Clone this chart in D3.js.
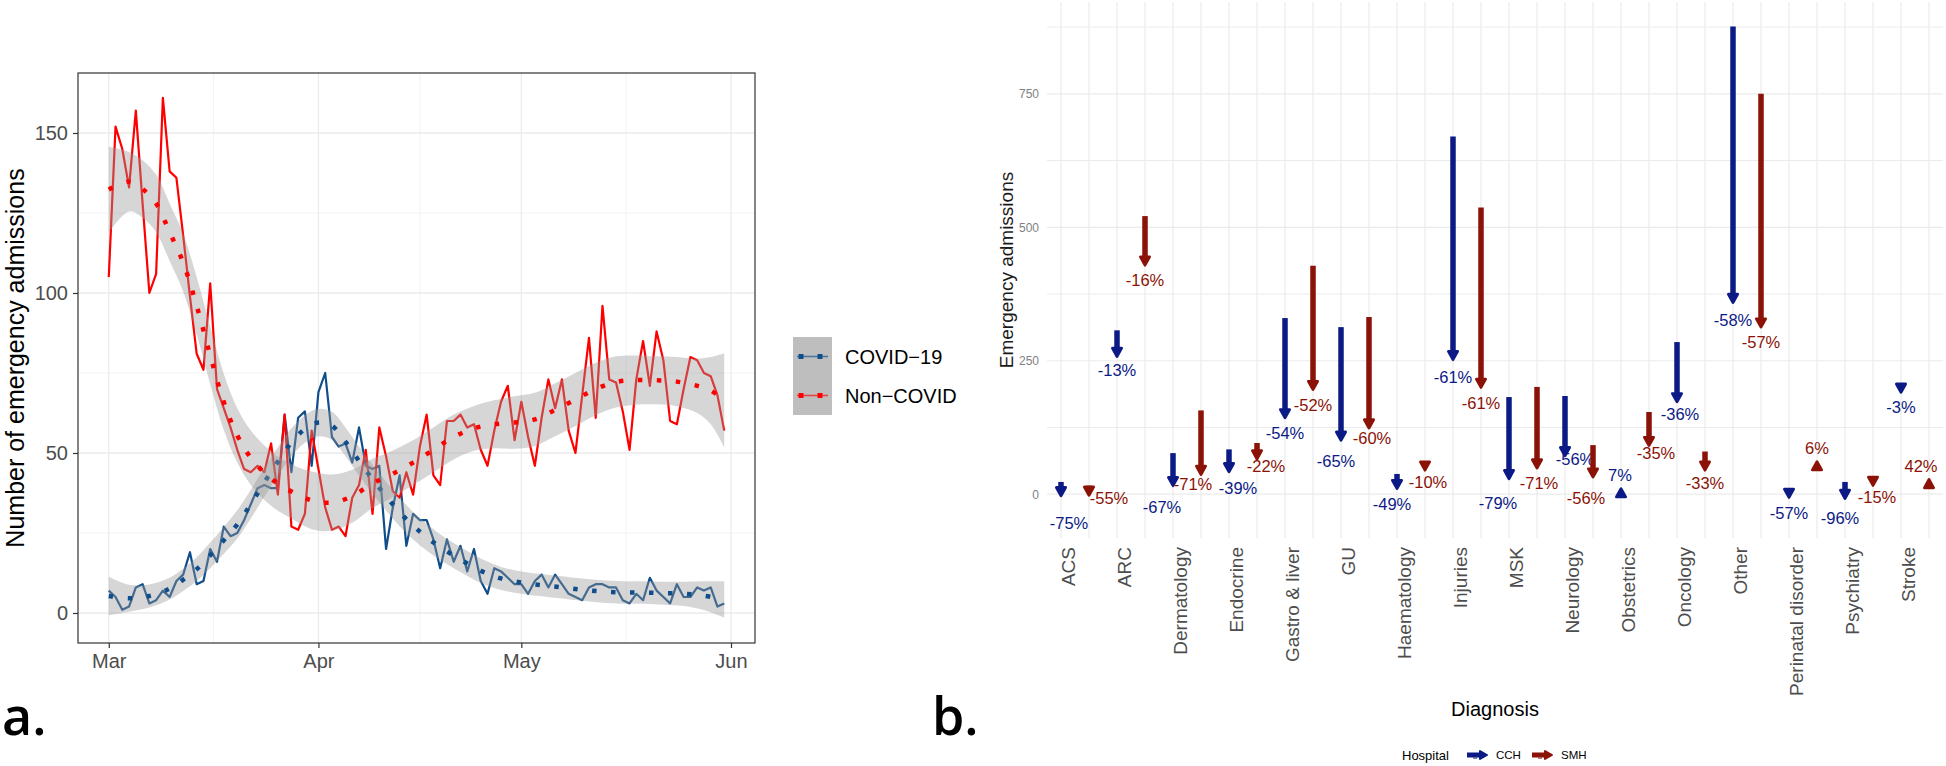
<!DOCTYPE html>
<html>
<head>
<meta charset="utf-8">
<script src="https://cdn.jsdelivr.net/npm/d3@7"></script>
<style>
  body { margin: 0; background: #fff; }
  svg { display: block; font-family: "Liberation Sans", Arial, sans-serif; }
</style>
</head>
<body>
<svg id="chart" width="1946" height="766"></svg>
<script>
// ---------- panel a: daily emergency admissions from 1 March 2020
const startDate = new Date(Date.UTC(2020, 2, 1));
const covid = [7, 5, 1, 2, 8, 9, 3, 4, 7, 5, 10, 12, 19, 9, 10, 20, 16, 27, 24, 25,
  29, 34, 39, 40, 39, 39, 62, 44, 61, 63, 46, 69, 75, 55, 52, 53, 47, 58, 46, 45,
  46, 20, 33, 43, 21, 31, 29, 29, 23, 14, 23, 16, 21, 13, 20, 10, 6, 14, 13, 11,
  9, 9, 6, 10, 12, 8, 12, 9, 6, 5, 4, 8, 9, 9, 8, 8, 4, 3, 6, 4,
  11, 7, 5, 3, 9, 5, 5, 8, 7, 8, 2, 3];
const nonCovid = [105, 152, 145, 133, 157, 128, 100, 106, 161, 138, 136, 118, 99, 81, 76, 103, 70, 64, 58, 51,
  45, 44, 46, 44, 53, 37, 62, 27, 26, 31, 57, 45, 33, 26, 27, 24, 36, 40, 51, 31,
  58, 49, 38, 36, 44, 37, 52, 62, 43, 40, 60, 60, 62, 58, 59, 51, 46, 57, 66, 71,
  54, 66, 55, 46, 61, 73, 64, 73, 57, 50, 68, 86, 61, 96, 73, 72, 63, 51, 73, 85,
  71, 88, 79, 60, 59, 70, 80, 79, 75, 74, 68, 57];

// loess fit and 95% band at knot days
const covidKnots = [0, 3, 6, 9, 11, 13, 15, 17, 19, 21, 23, 25, 27, 29, 31, 33, 35, 37, 39, 41,
  43, 45, 47, 49, 52, 55, 58, 61, 64, 67, 70, 73, 76, 79, 82, 85, 88, 91];
const covidFit = [5.3, 4.6, 5.3, 7.6, 10.4, 13.7, 18, 22.7, 27.7, 34, 40.8, 47.3, 53.3, 57.5, 59.5, 58.5, 53.5, 47.5, 41.8, 36.5,
  31.5, 27.3, 23.7, 20.6, 16.7, 13.2, 10.8, 9.5, 8.7, 8, 7.3, 6.7, 6.4, 6.4, 6.2, 6, 5.4, 4.2];
const covidLo = [-0.7, 0.4, 1.7, 4.2, 6.9, 10, 14, 18.5, 23.3, 29.5, 36.3, 42.8, 48.9, 53.2, 55.2, 54.1, 49, 43, 37.3, 32,
  27.1, 23, 19.5, 16.6, 12.8, 9.4, 7.2, 6, 5.2, 4.5, 3.8, 3.2, 2.9, 2.9, 2.6, 2.2, 0.9, -1.5];
const covidHi = [11.3, 8.8, 8.9, 11, 13.9, 17.4, 22, 26.9, 32.1, 38.5, 45.3, 51.8, 57.7, 61.8, 63.8, 62.9, 58, 52, 46.3, 41,
  35.9, 31.6, 27.9, 24.6, 20.6, 17, 14.4, 13, 12.2, 11.5, 10.8, 10.2, 9.9, 9.9, 9.8, 9.8, 9.9, 9.9];

const nonCovidKnots = [0, 3, 5, 7, 9, 11, 13, 15, 17, 19, 21, 24, 27, 30, 33, 36, 39, 42, 45, 48,
  51, 54, 57, 60, 63, 66, 69, 72, 75, 78, 81, 84, 87, 89, 91];
const nonCovidFit = [132.3, 134.8, 132.5, 128, 119, 109.5, 96, 80.5, 66, 55.5, 48.5, 42, 38, 35.2, 34.5, 36.5, 40.5, 43.5, 47, 51,
  55, 57.7, 59, 59.5, 60.5, 63.5, 66.7, 70, 72.2, 72.8, 72.7, 72.3, 71, 69.5, 66.5];
const nonCovidLo = [118.9, 125.5, 123.5, 119, 110, 100.5, 87, 71.5, 57.2, 47, 40, 33.5, 29.5, 26.2, 25.7, 28.2, 32.8, 36.2, 40, 44,
  48, 50.7, 51.5, 51.3, 52.2, 55.2, 58.4, 61.8, 64.2, 65.1, 65.2, 64.6, 62.5, 59, 51.8];
const nonCovidHi = [145.7, 144.1, 141.5, 137, 128, 118.5, 105, 89.5, 74.8, 64, 57, 50.5, 46.5, 44.2, 43.3, 44.8, 48.2, 50.8, 54, 58,
  62, 64.7, 66.5, 67.7, 68.8, 71.8, 75, 78.2, 80.2, 80.5, 80.2, 80, 79.5, 80, 81.2];

const seriesNames = ["COVID\u221219", "Non\u2212COVID"];
const yTicksA = [0, 50, 100, 150];

// ---------- panel b: admissions before -> after, by diagnosis and hospital
const diagnoses = ["ACS", "ARC", "Dermatology", "Endocrine", "Gastro & liver", "GU", "Haematology", "Injuries",
  "MSK", "Neurology", "Obstetrics", "Oncology", "Other", "Perinatal disorder", "Psychiatry", "Stroke"];
const hospitals = ["CCH", "SMH"];
const cchBefore = [23, 307, 77, 84, 330, 313, 38, 670, 182, 184, 1.4, 285, 876, 7, 23, 206];
const cchAfter = [6, 267, 25, 51, 152, 110, 19.5, 261, 38, 81, 1.5, 182, 368, 3, 1, 200];
const cchChange = ["-75%", "-13%", "-67%", "-39%", "-54%", "-65%", "-49%", "-61%", "-79%", "-56%", "7%", "-36%", "-58%", "-57%", "-96%", "-3%"];
const smhBefore = [16, 521, 157, 96, 428, 332, 60, 537, 201, 92, 154, 80, 750, 49, 30, 13];
const smhAfter = [7, 438, 46, 75, 205, 133, 54, 209, 58, 41, 100, 54, 322, 52, 25.5, 18.5];
const smhChange = ["-55%", "-16%", "-71%", "-22%", "-52%", "-60%", "-10%", "-61%", "-71%", "-56%", "-35%", "-33%", "-57%", "6%", "-15%", "42%"];
const yTicksB = [0, 250, 500, 750];

// label nudges (px), like a repel step, kept apart from the data
const cchNudge = [[8, 12], [0, -2], [-11, 6], [9, 1], [0, 0], [-5, 6], [-5, 0], [0, 2],
  [-11, 9], [10, -12], [-1, 2], [3, -3], [0, 2], [0, 0], [-5, 4], [0, 0]];
const smhNudge = [[20, -12], [0, 0], [-8, -6], [9, -8], [0, 0], [3, -5], [3, -3], [0, 0],
  [2, 0], [-7, 6], [7, -8], [0, -2], [0, 0], [0, 2], [4, -4], [-8, 2]];

const svg = d3.select("#chart");
const grid = "#EBEBEB";

// =================== panel a ===================
const A = { left: 78, right: 755, top: 73, bottom: 643 };
const dates = covid.map((_, i) => d3.utcDay.offset(startDate, i));
const endDate = dates[dates.length - 1];
const pad = 0.05 * (endDate - startDate);

const xa = d3.scaleUtc()
  .domain([new Date(+startDate - pad), new Date(+endDate + pad)])
  .range([A.left, A.right]);
const ya = d3.scaleLinear().domain([-9.375, 168.75]).range([A.bottom, A.top]);

const ga = svg.append("g");
const xMajor = d3.utcMonth.range(startDate, d3.utcDay.offset(endDate, 2));
const xMinor = d3.pairs(xMajor).map(([a, b]) => new Date((+a + +b) / 2));
const yMinor = d3.pairs(yTicksA).map(([a, b]) => (a + b) / 2);

ga.selectAll(".yminor").data(yMinor).join("line")
  .attr("x1", A.left).attr("x2", A.right)
  .attr("y1", d => ya(d)).attr("y2", d => ya(d))
  .attr("stroke", grid).attr("stroke-width", 0.6);
ga.selectAll(".xminor").data(xMinor).join("line")
  .attr("x1", d => xa(d)).attr("x2", d => xa(d))
  .attr("y1", A.top).attr("y2", A.bottom)
  .attr("stroke", grid).attr("stroke-width", 0.6);
ga.selectAll(".ymajor").data(yTicksA).join("line")
  .attr("x1", A.left).attr("x2", A.right)
  .attr("y1", d => ya(d)).attr("y2", d => ya(d))
  .attr("stroke", grid).attr("stroke-width", 1.3);
ga.selectAll(".xmajor").data(xMajor).join("line")
  .attr("x1", d => xa(d)).attr("x2", d => xa(d))
  .attr("y1", A.top).attr("y2", A.bottom)
  .attr("stroke", grid).attr("stroke-width", 1.3);

const colA = { [seriesNames[0]]: "#104E8B", [seriesNames[1]]: "#FF0000" };
const raw = [
  { name: seriesNames[0], values: covid },
  { name: seriesNames[1], values: nonCovid }
];
const smooth = [
  { name: seriesNames[0], days: covidKnots, fit: covidFit, lo: covidLo, hi: covidHi },
  { name: seriesNames[1], days: nonCovidKnots, fit: nonCovidFit, lo: nonCovidLo, hi: nonCovidHi }
];

const line = d3.line()
  .x((d, i) => xa(dates[i]))
  .y(d => ya(d));
raw.forEach(s => {
  ga.append("path")
    .attr("d", line(s.values))
    .attr("fill", "none")
    .attr("stroke", colA[s.name])
    .attr("stroke-width", 2.2)
    .attr("stroke-linejoin", "round");
});

smooth.forEach(s => {
  const pts = s.days.map((day, i) => ({ date: d3.utcDay.offset(startDate, day), fit: s.fit[i], lo: s.lo[i], hi: s.hi[i] }));
  const band = d3.area()
    .curve(d3.curveCatmullRom.alpha(0.5))
    .x(d => xa(d.date)).y0(d => ya(d.lo)).y1(d => ya(d.hi));
  ga.append("path")
    .attr("d", band(pts))
    .attr("fill", "#999999")
    .attr("fill-opacity", 0.4);
  const fitLine = d3.line()
    .curve(d3.curveCatmullRom.alpha(0.5))
    .x(d => xa(d.date)).y(d => ya(d.fit));
  ga.append("path")
    .attr("d", fitLine(pts))
    .attr("fill", "none")
    .attr("stroke", colA[s.name])
    .attr("stroke-width", 4.5)
    .attr("stroke-dasharray", "4.5 14.5");
});

// panel border
ga.append("rect")
  .attr("x", A.left).attr("y", A.top)
  .attr("width", A.right - A.left).attr("height", A.bottom - A.top)
  .attr("fill", "none").attr("stroke", "#333333").attr("stroke-width", 1.2);

// axes
const xAxisA = d3.axisBottom(xa).tickValues(xMajor).tickFormat(d3.utcFormat("%b")).tickSize(5).tickPadding(6);
const gxa = ga.append("g").attr("transform", `translate(0,${A.bottom})`).call(xAxisA);
gxa.select(".domain").remove();
gxa.selectAll("line").attr("stroke", "#333333").attr("stroke-width", 1.2);
gxa.selectAll("text").attr("fill", "#4D4D4D").attr("font-size", 20).attr("font-family", "Liberation Sans, Arial, sans-serif");

const yAxisA = d3.axisLeft(ya).tickValues(yTicksA).tickSize(5).tickPadding(5);
const gya = ga.append("g").attr("transform", `translate(${A.left},0)`).call(yAxisA);
gya.select(".domain").remove();
gya.selectAll("line").attr("stroke", "#333333").attr("stroke-width", 1.2);
gya.selectAll("text").attr("fill", "#4D4D4D").attr("font-size", 20).attr("font-family", "Liberation Sans, Arial, sans-serif");

ga.append("text")
  .attr("transform", `translate(24,${(A.top + A.bottom) / 2}) rotate(-90)`)
  .attr("text-anchor", "middle")
  .attr("font-size", 25)
  .attr("fill", "#000")
  .text("Number of emergency admissions");

// legend a
const legA = ga.append("g").attr("transform", "translate(793,337)");
seriesNames.forEach((name, i) => {
  const g = legA.append("g").attr("transform", `translate(0,${i * 39})`);
  g.append("rect").attr("width", 39).attr("height", 39).attr("fill", "#BEBEBE");
  g.append("line").attr("x1", 4).attr("x2", 35).attr("y1", 19.5).attr("y2", 19.5)
    .attr("stroke", colA[name]).attr("stroke-width", 1.6).attr("stroke-opacity", 0.65);
  [8, 27].forEach(cx => g.append("rect").attr("x", cx - 2.5).attr("y", 17).attr("width", 5).attr("height", 5).attr("fill", colA[name]));
  g.append("text").attr("x", 52).attr("y", 19.5).attr("dy", "0.36em")
    .attr("font-size", 20).attr("fill", "#000").text(name);
});

svg.append("text").attr("x", 2).attr("y", 735)
  .attr("font-family", "Open Sans, sans-serif").attr("font-size", 52).attr("font-weight", 600).attr("fill", "#000")
  .text("a.");

// =================== panel b ===================
const B = { left: 1047, right: 1943, top: 2, bottom: 538 };
const xb = d3.scaleBand().domain(diagnoses).range([B.left, B.right]);
const xh = d3.scaleBand().domain(hospitals).range([0, xb.bandwidth()]);
const yb = d3.scaleLinear().domain([-82, 922]).range([B.bottom, B.top]);
const colB = { CCH: "#0B1A85", SMH: "#8B1206" };

const gb = svg.append("g");
const yMinorB = d3.pairs(yTicksB).map(([a, b]) => (a + b) / 2).concat([875]);
gb.selectAll(".hgrid").data(yTicksB.concat(yMinorB)).join("line")
  .attr("x1", B.left).attr("x2", B.right)
  .attr("y1", d => yb(d)).attr("y2", d => yb(d))
  .attr("stroke", grid).attr("stroke-width", d => yTicksB.includes(d) ? 1.2 : 1);
const positions = diagnoses.flatMap(d => hospitals.map(h => xb(d) + xh(h) + xh.bandwidth() / 2));
gb.selectAll(".vgrid").data(positions).join("line")
  .attr("x1", d => d).attr("x2", d => d)
  .attr("y1", B.top).attr("y2", B.bottom)
  .attr("stroke", grid).attr("stroke-width", 1.2);

const rows = [];
diagnoses.forEach((d, i) => {
  rows.push({ dx: d, hosp: "CCH", from: cchBefore[i], to: cchAfter[i], lab: cchChange[i], nudge: cchNudge[i] });
  rows.push({ dx: d, hosp: "SMH", from: smhBefore[i], to: smhAfter[i], lab: smhChange[i], nudge: smhNudge[i] });
});

const arrows = gb.selectAll(".arrow").data(rows).join("g");
arrows.each(function (r) {
  const g = d3.select(this);
  const x = xb(r.dx) + xh(r.hosp) + xh.bandwidth() / 2;
  const y0 = yb(r.from), y1 = yb(r.to);
  const dir = r.to < r.from ? 1 : -1;
  g.append("line")
    .attr("x1", x).attr("x2", x).attr("y1", y0).attr("y2", y1)
    .attr("stroke", colB[r.hosp]).attr("stroke-width", 5.5);
  g.append("path")
    .attr("d", `M${x - 4.6},${y1 - dir * 3.5}L${x + 4.6},${y1 - dir * 3.5}L${x},${y1 + dir * 4.8}Z`)
    .attr("fill", colB[r.hosp]).attr("stroke", colB[r.hosp])
    .attr("stroke-width", 2.8).attr("stroke-linejoin", "round");
  g.append("text")
    .attr("x", x + r.nudge[0])
    .attr("y", y1 + dir * 20 + r.nudge[1])
    .attr("dy", "0.36em")
    .attr("text-anchor", "middle")
    .attr("font-size", 16.5)
    .attr("fill", colB[r.hosp])
    .text(r.lab);
});

// x labels
gb.selectAll(".xlab").data(diagnoses).join("text")
  .attr("transform", d => `translate(${xb(d) + xh("CCH") + xh.bandwidth() / 2},547) rotate(-90)`)
  .attr("dy", "0.72em")
  .attr("text-anchor", "end")
  .attr("font-size", 19)
  .attr("fill", "#4D4D4D")
  .text(d => d);

// y labels
gb.selectAll(".ylab").data(yTicksB).join("text")
  .attr("x", 1039).attr("y", d => yb(d)).attr("dy", "0.36em")
  .attr("text-anchor", "end").attr("font-size", 12).attr("fill", "#7F7F7F")
  .text(d => d);

gb.append("text")
  .attr("transform", `translate(1013,${(B.top + B.bottom) / 2}) rotate(-90)`)
  .attr("text-anchor", "middle").attr("font-size", 19).attr("fill", "#1A1A1A")
  .text("Emergency admissions");

gb.append("text")
  .attr("x", (B.left + B.right) / 2).attr("y", 709).attr("dy", "0.36em")
  .attr("text-anchor", "middle").attr("font-size", 20).attr("fill", "#000")
  .text("Diagnosis");

// legend b
const legB = gb.append("g").attr("transform", "translate(1402,755)");
legB.append("text").attr("x", 0).attr("dy", "0.36em").attr("font-size", 13).attr("fill", "#000").text("Hospital");
hospitals.forEach((h, i) => {
  const x0 = 65 + i * 65;
  legB.append("line").attr("x1", x0).attr("x2", x0 + 14).attr("y1", 0).attr("y2", 0)
    .attr("stroke", colB[h]).attr("stroke-width", 5);
  legB.append("path").attr("d", `M${x0 + 13},-4L${x0 + 13},4L${x0 + 20},0Z`)
    .attr("fill", colB[h]).attr("stroke", colB[h]).attr("stroke-width", 2).attr("stroke-linejoin", "round");
  legB.append("text").attr("x", x0 + 8).attr("y", 4).attr("text-anchor", "middle")
    .attr("font-size", 7).attr("fill", colB[h]).text("a");
  legB.append("text").attr("x", x0 + 29).attr("dy", "0.36em").attr("font-size", 11.5).attr("fill", "#000").text(h);
});

svg.append("text").attr("x", 932).attr("y", 735)
  .attr("font-family", "Open Sans, sans-serif").attr("font-size", 52).attr("font-weight", 600).attr("fill", "#000")
  .text("b.");
</script>
</body>
</html>
